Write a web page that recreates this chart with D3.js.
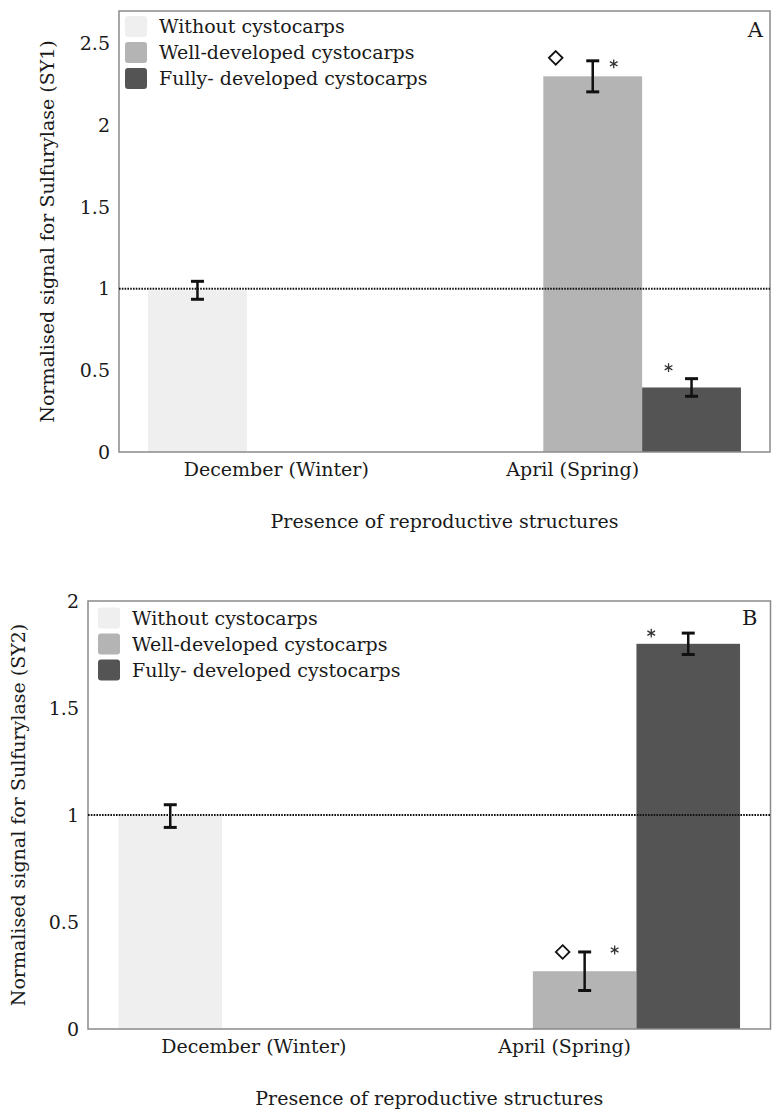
<!DOCTYPE html>
<html>
<head>
<meta charset="utf-8">
<script src="https://cdn.jsdelivr.net/npm/d3@7"></script>
<style>
  html, body { margin: 0; padding: 0; background: #fff; }
  svg { display: block; }
</style>
</head>
<body>
<svg id="chart" width="779" height="1117"></svg>
<script>
// ---------------- DATA ----------------
const categories = ["December (Winter)", "April (Spring)"];
const seriesNames = ["Without cystocarps", "Well-developed cystocarps", "Fully- developed cystocarps"];
const seriesColors = ["#efefef", "#b4b4b4", "#545454"];

// Panel A: SY1 (values per category, null = no bar)
const sy1Without = [0.99, null];
const sy1Well    = [null, 2.30];
const sy1Fully   = [null, 0.395];
const sy1WithoutErr = [0.055, null];
const sy1WellErr    = [null, 0.095];
const sy1FullyErr   = [null, 0.054];

// Panel B: SY2
const sy2Without = [0.995, null];
const sy2Well    = [null, 0.27];
const sy2Fully   = [null, 1.80];
const sy2WithoutErr = [0.053, null];
const sy2WellErr    = [null, 0.09];
const sy2FullyErr   = [null, 0.05];

// Y ticks
const sy1Ticks = [0, 0.5, 1, 1.5, 2, 2.5];
const sy1TickLabels = ["0", "0.5", "1", "1.5", "2", "2.5"];
const sy2Ticks = [0, 0.5, 1, 1.5, 2];
const sy2TickLabels = ["0", "0.5", "1", "1.5", "2"];

// Significance marks: [categoryIndex, seriesIndex, symbol]
const sy1Marks = [[1, 1, "diamond"], [1, 1, "asterisk"], [1, 2, "asterisk"]];
const sy2Marks = [[1, 1, "diamond"], [1, 1, "asterisk"], [1, 2, "asterisk"]];

const referenceLevel = 1;

// ---------------- LAYOUT ----------------
const panels = [
  {
    letter: "A", yTitle: "Normalised signal for Sulfurylase (SY1)",
    values: [sy1Without, sy1Well, sy1Fully], errs: [sy1WithoutErr, sy1WellErr, sy1FullyErr],
    ticks: sy1Ticks, tickLabels: sy1TickLabels, marks: sy1Marks, yMax: 2.7,
    left: 119, top: 11, right: 770, bottom: 452, yTitleX: 47,
    legendDx: 6, legendDy: 15.5, letterDx: 7, letterDy: 26,
    markOffsets: [[-37, -3], [21, 3], [-23, -11]]
  },
  {
    letter: "B", yTitle: "Normalised signal for Sulfurylase (SY2)",
    values: [sy2Without, sy2Well, sy2Fully], errs: [sy2WithoutErr, sy2WellErr, sy2FullyErr],
    ticks: sy2Ticks, tickLabels: sy2TickLabels, marks: sy2Marks, yMax: 2,
    left: 88, top: 601, right: 770.5, bottom: 1029, yTitleX: 18,
    legendDx: 10, legendDy: 17, letterDx: 13, letterDy: 24,
    markOffsets: [[-22, 0], [30, -2], [-37, 0]]
  }
];

const FONT = "'DejaVu Serif', 'Liberation Serif', serif";
const svg = d3.select("#chart")
  .attr("font-family", FONT);
svg.append("rect").attr("width", 779).attr("height", 1117).attr("fill", "#fff");

// fit font size so the axis title spans about the reference width
const probe = svg.append("text").attr("font-size", 100).attr("font-family", FONT)
  .text("Presence of reproductive structures");
const w100 = probe.node().getComputedTextLength();
probe.remove();
const FS = Math.min(22, Math.max(14, 100 * 348 / w100));

panels.forEach(p => {
  const g = svg.append("g").attr("fill", "#1a1a1a");
  const y = d3.scaleLinear().domain([0, p.yMax]).range([p.bottom, p.top]);
  const x = d3.scaleBand().domain(categories).range([p.left, p.right])
    .paddingInner(0).paddingOuter(0.098);
  const xs = d3.scaleBand().domain(seriesNames).range([0, x.bandwidth()]).padding(0);

  const bars = [];
  categories.forEach((c, ci) => {
    seriesNames.forEach((s, si) => {
      const v = p.values[si][ci];
      if (v !== null) bars.push({c, ci, s, si, v, e: p.errs[si][ci]});
    });
  });

  g.selectAll("rect.bar").data(bars).join("rect")
    .attr("class", "bar")
    .attr("x", d => x(d.c) + xs(d.s))
    .attr("width", xs.bandwidth())
    .attr("y", d => y(d.v))
    .attr("height", d => y(0) - y(d.v))
    .attr("fill", d => seriesColors[d.si]);

  g.append("rect")
    .attr("x", p.left).attr("y", p.top)
    .attr("width", p.right - p.left).attr("height", p.bottom - p.top)
    .attr("fill", "none").attr("stroke", "#8a8a8a").attr("stroke-width", 1.5);

  g.append("line")
    .attr("x1", p.left).attr("x2", p.right)
    .attr("y1", y(referenceLevel)).attr("y2", y(referenceLevel))
    .attr("stroke", "#111").attr("stroke-width", 2)
    .attr("stroke-dasharray", "1.6,1.2");

  const cx = d => x(d.c) + xs(d.s) + xs.bandwidth() / 2;
  const eb = g.selectAll("g.err").data(bars).join("g").attr("class", "err");
  eb.append("line")
    .attr("x1", cx).attr("x2", cx)
    .attr("y1", d => y(d.v + d.e)).attr("y2", d => y(d.v - d.e))
    .attr("stroke", "#111").attr("stroke-width", 2.5);
  [1, -1].forEach(sgn => {
    eb.append("line")
      .attr("x1", d => cx(d) - 6.5).attr("x2", d => cx(d) + 6.5)
      .attr("y1", d => y(d.v + sgn * d.e)).attr("y2", d => y(d.v + sgn * d.e))
      .attr("stroke", "#111").attr("stroke-width", 3);
  });

  p.marks.forEach((m, mi) => {
    const [ci, si, sym] = m;
    const d = bars.find(b => b.ci === ci && b.si === si);
    const px = cx(d) + p.markOffsets[mi][0];
    const py = y(d.v + d.e) + p.markOffsets[mi][1];
    if (sym === "diamond") {
      g.append("path")
        .attr("d", d3.symbol(d3.symbolDiamond2, 118)())
        .attr("transform", `translate(${px},${py})`)
        .attr("fill", "none").attr("stroke", "#111").attr("stroke-width", 1.8);
    } else {
      g.append("path")
        .attr("d", d3.symbol(d3.symbolAsterisk, 55)())
        .attr("transform", `translate(${px},${py})`)
        .attr("fill", "none").attr("stroke", "#333").attr("stroke-width", 1.3);
    }
  });

  g.selectAll("text.tick").data(p.ticks).join("text")
    .attr("class", "tick")
    .attr("x", p.left - 9)
    .attr("y", d => y(d))
    .attr("dy", "0.35em")
    .attr("text-anchor", "end")
    .attr("font-size", FS)
    .text((d, i) => p.tickLabels[i]);

  g.selectAll("text.cat").data(categories).join("text")
    .attr("class", "cat")
    .attr("x", d => x(d) + x.bandwidth() / 2 - 20)
    .attr("y", p.bottom + 24)
    .attr("text-anchor", "middle")
    .attr("font-size", FS)
    .text(d => d);

  g.append("text")
    .attr("x", (p.left + p.right) / 2)
    .attr("y", p.bottom + 76)
    .attr("text-anchor", "middle")
    .attr("font-size", FS)
    .text("Presence of reproductive structures");

  g.append("text")
    .attr("transform", `translate(${p.yTitleX},${(p.top + p.bottom) / 2}) rotate(-90)`)
    .attr("dy", "0.35em")
    .attr("text-anchor", "middle")
    .attr("font-size", FS)
    .text(p.yTitle);

  g.append("text")
    .attr("x", p.right - p.letterDx)
    .attr("y", p.top + p.letterDy)
    .attr("text-anchor", "end")
    .attr("font-size", FS + 2)
    .text(p.letter);

  const lg = g.append("g").attr("transform", `translate(${p.left + p.legendDx},${p.top + p.legendDy})`);
  seriesNames.forEach((s, i) => {
    lg.append("rect")
      .attr("x", 0).attr("y", i * 26 - 10.5)
      .attr("width", 22).attr("height", 21).attr("rx", 3)
      .attr("fill", seriesColors[i]);
    lg.append("text")
      .attr("x", 34).attr("y", i * 26 + 6.5)
      .attr("font-size", FS)
      .text(s);
  });
});
</script>
</body>
</html>
